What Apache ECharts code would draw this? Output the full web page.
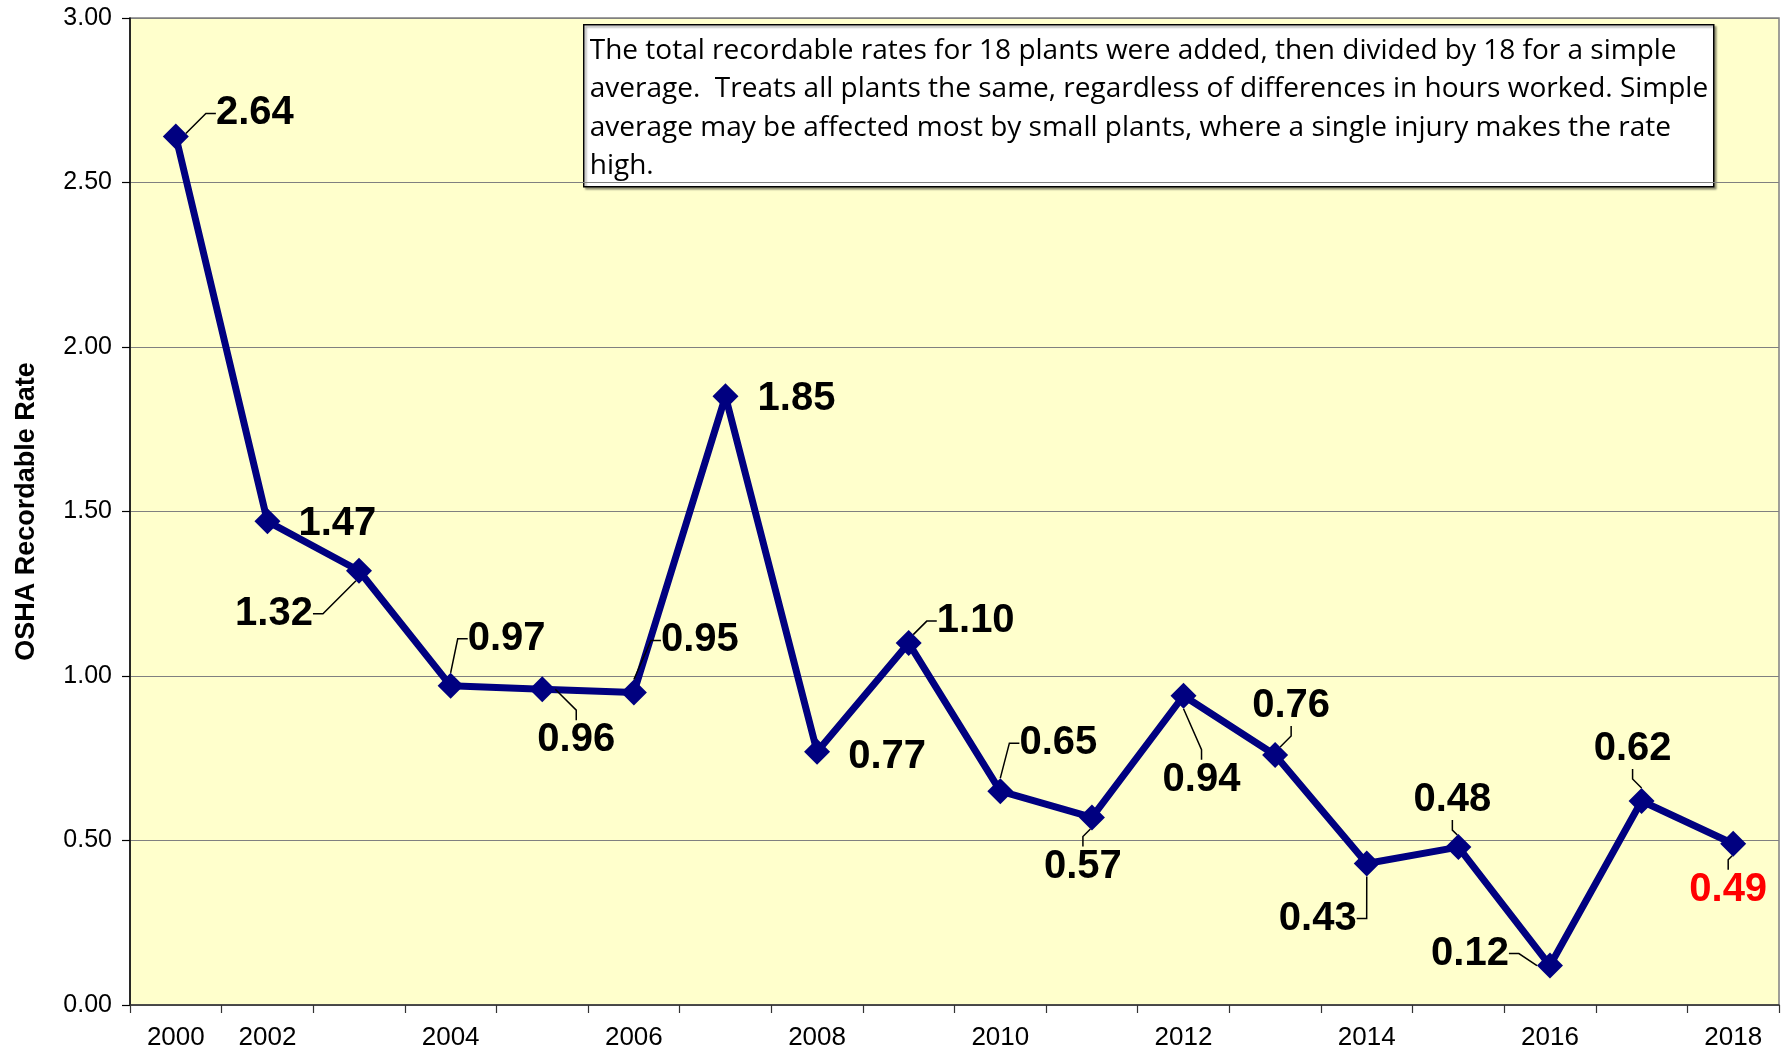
<!DOCTYPE html>
<html>
<head>
<meta charset="utf-8">
<title>OSHA Recordable Rate</title>
<script src="https://cdn.jsdelivr.net/npm/echarts@6/dist/echarts.min.js"></script>
<style>
html, body { margin: 0; padding: 0; background: #fff; }
#container { width: 1785px; height: 1052px; }
</style>
</head>
<body>
<div id="container"></div>
<script>
// years on the category axis (no 2001 in the source data)
var years = ['2000', '2002', '2003', '2004', '2005', '2006', '2007', '2008', '2009',
	'2010', '2011', '2012', '2013', '2014', '2015', '2016', '2017', '2018'];
var rates = [2.64, 1.47, 1.32, 0.97, 0.96, 0.95, 1.85, 0.77, 1.10,
	0.65, 0.57, 0.94, 0.76, 0.43, 0.48, 0.12, 0.62, 0.49];
var axisName = 'OSHA Recordable Rate';
var noteLines = [
	'The total recordable rates for 18 plants were added, then divided by 18 for a simple',
	'average.  Treats all plants the same, regardless of differences in hours worked. Simple',
	'average may be affected most by small plants, where a single injury makes the rate',
	'high.'
];

// label placement (px from the marker) and whether a leader line is drawn
var labelPos = [
	[79, -23, true], [70, 3, false], [-85, 43, true], [56, -47, true],
	[34, 51, true], [66, -52, true], [71, 3, false], [70, 5, false],
	[67, -22, true], [58, -48, true], [-9, 49, true], [18, 84, true],
	[16, -49, true], [-49, 55, true], [-6, -47, true], [-80, -12, true],
	[-9, -52, true], [-5, 46, true]
];

var dom = document.getElementById("container");
var myChart = echarts.init(dom);

var seriesData = rates.map(function(v, i) {
	var item = {
		value: v,
		labelLine: { show: labelPos[i][2] }
	};
	if(i == rates.length - 1) {
		item.label = { color: '#ff0000' };
	}
	return item;
});

var option = {
	backgroundColor: '#ffffff',
	animation: false,
	grid: {
		left: 130,
		right: 6,
		top: 18,
		bottom: 47,
		show: true,
		backgroundColor: '#ffffcc',
		borderColor: '#808080',
		borderWidth: 1.5,
		outerBoundsMode: 'none'
	},
	xAxis: {
		type: 'category',
		data: years,
		boundaryGap: true,
		axisLine: { lineStyle: { color: '#333', width: 1.5 } },
		axisTick: { show: true, interval: 0, length: 8, lineStyle: { color: '#333', width: 1.2 } },
		axisLabel: {
			interval: function(index) {
				return index === 0 || index % 2 === 1;
			},
			color: '#000',
			fontFamily: '"Liberation Sans", Arial, sans-serif',
			fontSize: 26,
			margin: 20
		},
		splitLine: { show: false }
	},
	yAxis: {
		type: 'value',
		min: 0,
		max: 3,
		interval: 0.5,
		name: axisName,
		nameLocation: 'middle',
		nameGap: 90,
		nameRotate: 90,
		nameTextStyle: {
			color: '#000',
			fontFamily: '"Liberation Sans", Arial, sans-serif',
			fontWeight: 'bold',
			fontSize: 27
		},
		axisLine: { show: true, lineStyle: { color: '#000', width: 1.5 } },
		axisTick: { show: true, length: 8, lineStyle: { color: '#000', width: 1.2 } },
		axisLabel: {
			color: '#000',
			fontFamily: '"Liberation Sans", Arial, sans-serif',
			fontSize: 25,
			margin: 18,
			formatter: function(v) {
				return v.toFixed(2);
			}
		},
		splitLine: { show: true, lineStyle: { color: '#808080', width: 1.2 } }
	},
	graphic: [{
		type: 'group',
		left: 583,
		top: 24,
		z: 100,
		children: [{
			type: 'rect',
			shape: { x: 0, y: 0, width: 1130, height: 162 },
			style: {
				fill: '#ffffff',
				stroke: '#000',
				lineWidth: 1.5,
				shadowColor: 'rgba(0,0,0,0.35)',
				shadowOffsetX: 2,
				shadowOffsetY: 2,
				shadowBlur: 2
			}
		}, {
			type: 'text',
			x: 6,
			y: 7,
			style: {
				text: noteLines.join('\n'),
				fill: '#000',
				font: '28px "Open Sans", "Noto Sans", sans-serif',
				lineHeight: 38.5
			}
		}]
	}],
	series: [{
		name: axisName,
		type: 'line',
		data: seriesData,
		showAllSymbol: true,
		symbol: 'diamond',
		symbolSize: 26,
		lineStyle: { color: '#000080', width: 7 },
		itemStyle: { color: '#000080' },
		label: {
			show: true,
			position: 'inside',
			color: '#000',
			fontFamily: '"Liberation Sans", Arial, sans-serif',
			fontWeight: 'bold',
			fontSize: 40,
			formatter: function(p) {
				return p.value.toFixed(2);
			}
		},
		labelLine: {
			show: true,
			length2: 10,
			lineStyle: { color: '#000', width: 1.5 }
		},
		labelLayout: function(params) {
			var pos = labelPos[params.dataIndex];
			return { dx: pos[0], dy: pos[1] };
		},
		z: 3
	}]
};

if(option && typeof option === "object") {
	myChart.setOption(option, true);
}
</script>
</body>
</html>
